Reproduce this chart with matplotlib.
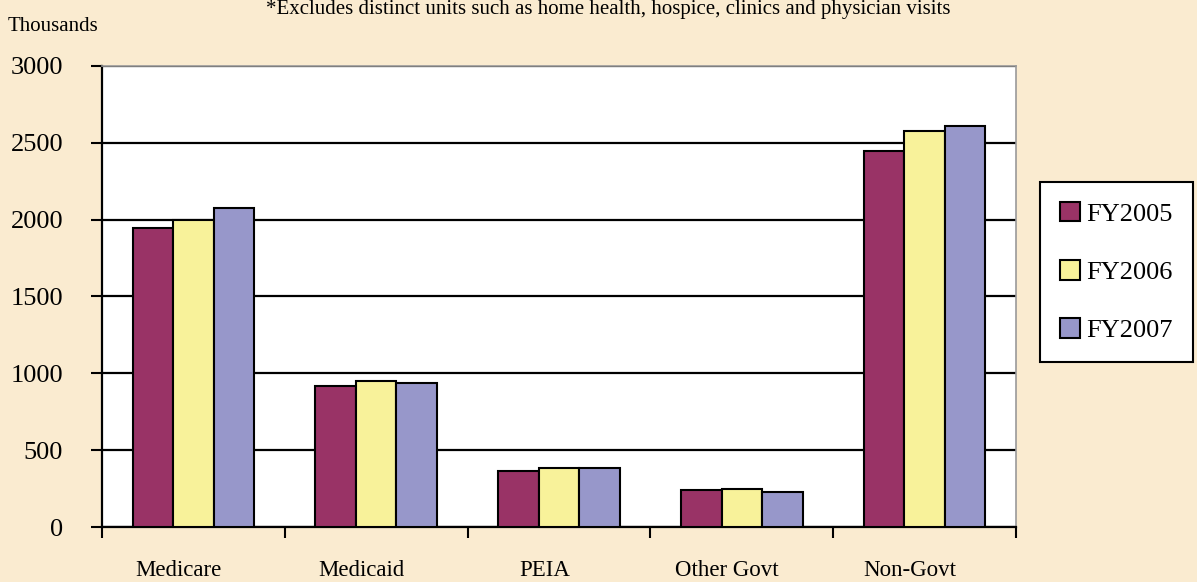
import numpy as np
import matplotlib
matplotlib.use('Agg')
import matplotlib.pyplot as plt

categories = ['Medicare', 'Medicaid', 'PEIA', 'Other Govt', 'Non-Govt']
fy2005 = [1948, 915, 362, 243, 2444]
fy2006 = [2000, 948, 382, 245, 2575]
fy2007 = [2078, 935, 382, 230, 2608]
series_names = ['FY2005', 'FY2006', 'FY2007']
colors = ['#993366', '#F8F29A', '#9797CA']
yticks = [0, 500, 1000, 1500, 2000, 2500, 3000]

plt.rcParams['font.family'] = ['Liberation Serif', 'DejaVu Serif']
bg = '#FAEBD0'

fig = plt.figure(figsize=(11.97, 5.82), dpi=100, facecolor=bg)
ax = fig.add_axes([0.0852, 0.0945, 0.7636, 0.7921])
ax.set_facecolor('white')

x = np.arange(len(categories))
w = 0.222
for i, (vals, name) in enumerate(zip([fy2005, fy2006, fy2007], series_names)):
    ax.bar(x + (i - 1) * w, vals, w, color=colors[i], edgecolor='black',
           linewidth=1.5, label=name, zorder=3)

ax.set_ylim(0, 3000)
ax.set_xlim(-0.5, len(categories) - 0.5)
ax.set_yticks(yticks)
ax.set_yticklabels([str(v) for v in yticks], fontsize=19)
ax.yaxis.grid(True, color='black', linewidth=1.6, zorder=1)
ax.set_axisbelow(True)

# category labels near centres, tick marks at the boundaries
ax.set_xticks(x - 0.08)
ax.set_xticklabels(categories, fontsize=16.5)
ax.tick_params(axis='x', which='major', length=0, pad=24)
ax.set_xticks(np.arange(-0.5, len(categories), 1.0), minor=True)
ax.tick_params(axis='x', which='minor', length=8, width=1.5, direction='out')
ax.tick_params(axis='y', length=8, width=1.5, direction='out', pad=20)

for s in ['left', 'bottom']:
    ax.spines[s].set_color('black')
    ax.spines[s].set_linewidth(1.6)
for s in ['right', 'top']:
    ax.spines[s].set_color('#999999')
    ax.spines[s].set_linewidth(1.2)

leg = ax.legend(loc='upper left', bbox_to_anchor=(1.026, 0.748), fontsize=19,
                frameon=True, fancybox=False, edgecolor='black', facecolor='white',
                handlelength=0.76, handleheight=0.76, labelspacing=1.3,
                borderpad=0.75, handletextpad=0.25, borderaxespad=0)
leg.get_frame().set_linewidth(1.5)
leg.get_frame().set_alpha(1)

fig.text(0.0067, 0.955, 'Thousands', fontsize=15, ha='left', va='center')
fig.text(0.508, 0.984, '*Excludes distinct units such as home health, hospice, clinics and physician visits',
         fontsize=15, ha='center', va='center')

plt.savefig('out.png', dpi=100, facecolor=bg)
